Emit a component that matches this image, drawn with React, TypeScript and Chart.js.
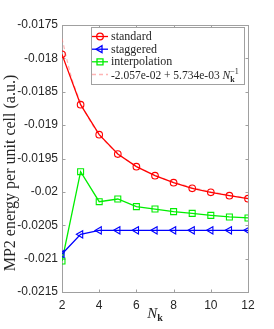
import React, { useEffect, useRef } from "react";
import { Chart, registerables } from "chart.js";

Chart.register(...registerables);

const N_K = [2, 3, 4, 5, 6, 7, 8, 9, 10, 11, 12];
const STANDARD = [-0.01794, -0.018694, -0.019143, -0.019433, -0.019622, -0.019757, -0.019862, -0.019947, -0.020007, -0.020057, -0.020102];
const STAGGERED = [-0.020931, -0.020636, -0.020578, -0.020576, -0.020576, -0.020576, -0.020576, -0.020576, -0.020576, -0.020576, -0.020576];
const INTERPOLATION = [-0.021036, -0.019697, -0.020147, -0.020107, -0.020221, -0.020257, -0.020296, -0.020322, -0.020352, -0.020376, -0.020391];
const FIT_N = [2, 2.5, 3, 3.5, 4, 5, 6, 7, 8, 9, 10, 11, 12];
const FIT = [-0.017703, -0.0182764, -0.0186587, -0.0189317, -0.0191365, -0.0194232, -0.0196143, -0.0197509, -0.0198533, -0.0199329, -0.0199966, -0.0200487, -0.0200922];

const SERIES_LABELS = ["standard", "staggered", "interpolation"];
const FIT_LABEL = "-2.057e-02 + 5.734e-03 ";
const X_TICKS = [2, 4, 6, 8, 10, 12];
const X_MIN = 2;
const X_MAX = 12;
const Y_MIN = -0.0215;
const Y_MAX = -0.0175;
const Y_STEP = 0.0005;
const Y_TITLE = "MP2 energy per unit cell (a.u.)";

const RED = "#ff0000";
const BLUE = "#0000ff";
const GREEN = "#00ee00";
const FIT_COLOR = "rgba(255,120,120,0.55)";
const AXIS_COLOR = "#a0a0a0";
const TEXT_COLOR = "#262626";
const SERIF = '"Liberation Serif", "Times New Roman", serif';

const pts = (xs: number[], ys: number[]) => xs.map((x, i) => ({ x, y: ys[i] }));

function drawMarker(ctx: CanvasRenderingContext2D, kind: string, cx: number, cy: number) {
  ctx.beginPath();
  if (kind === "circle") {
    ctx.arc(cx, cy, 3.3, 0, Math.PI * 2);
  } else if (kind === "triangle") {
    const r = 4;
    ctx.moveTo(cx - r, cy);
    ctx.lineTo(cx + r * 0.5, cy - r * 0.866);
    ctx.lineTo(cx + r * 0.5, cy + r * 0.866);
    ctx.closePath();
  } else {
    ctx.rect(cx - 3, cy - 3, 6, 6);
  }
  ctx.stroke();
}

const framePlugin = {
  id: "frame",
  beforeDatasetsDraw(chart: any) {
    const { ctx, chartArea: a, scales } = chart;
    const x = scales.x;
    const y = scales.y;
    ctx.save();
    ctx.strokeStyle = AXIS_COLOR;
    ctx.lineWidth = 1;
    const l = Math.round(a.left) + 0.5;
    const r = Math.round(a.right) + 0.5;
    const t = Math.round(a.top) + 0.5;
    const b = Math.round(a.bottom) + 0.5;
    ctx.strokeRect(l, t, r - l, b - t);
    ctx.beginPath();
    X_TICKS.forEach((v) => {
      const px = Math.round(x.getPixelForValue(v)) + 0.5;
      ctx.moveTo(px, b);
      ctx.lineTo(px, b - 3);
      ctx.moveTo(px, t);
      ctx.lineTo(px, t + 3);
    });
    y.ticks.forEach((tk: any) => {
      const py = Math.round(y.getPixelForValue(tk.value)) + 0.5;
      ctx.moveTo(l, py);
      ctx.lineTo(l + 3, py);
      ctx.moveTo(r, py);
      ctx.lineTo(r - 3, py);
    });
    ctx.stroke();
    ctx.restore();
  },
  afterDraw(chart: any) {
    const { ctx, chartArea: a } = chart;
    ctx.save();
    // y title
    ctx.fillStyle = TEXT_COLOR;
    ctx.font = `16px ${SERIF}`;
    ctx.textAlign = "center";
    ctx.textBaseline = "alphabetic";
    ctx.translate(15, 173);
    ctx.rotate(-Math.PI / 2);
    ctx.fillText(Y_TITLE, 0, 0);
    ctx.setTransform(1, 0, 0, 1, 0, 0);

    // x title N_k
    const cx = (a.left + a.right) / 2;
    ctx.textAlign = "left";
    ctx.font = `italic 15px ${SERIF}`;
    const wN = ctx.measureText("N").width;
    ctx.font = `bold 10px ${SERIF}`;
    const wk = ctx.measureText("k").width;
    const x0 = cx - (wN + wk) / 2;
    ctx.font = `italic 15px ${SERIF}`;
    ctx.fillText("N", x0, 318);
    ctx.font = `bold 10px ${SERIF}`;
    ctx.fillText("k", x0 + wN, 321);

    // legend
    const bx = 91, by = 27, bw = 153, bh = 57;
    ctx.fillStyle = "#ffffff";
    ctx.fillRect(bx, by, bw, bh);
    ctx.strokeStyle = AXIS_COLOR;
    ctx.lineWidth = 1;
    ctx.strokeRect(bx + 0.5, by + 0.5, bw, bh);
    const rows = [36.5, 49.2, 61.8, 74.5];
    const colors = [RED, BLUE, GREEN];
    const kinds = ["circle", "triangle", "rect"];
    ctx.font = `12px ${SERIF}`;
    ctx.textBaseline = "middle";
    for (let i = 0; i < 3; i++) {
      ctx.strokeStyle = colors[i];
      ctx.lineWidth = 1.3;
      ctx.beginPath();
      ctx.moveTo(92, rows[i]);
      ctx.lineTo(108, rows[i]);
      ctx.stroke();
      drawMarker(ctx, kinds[i], 100, rows[i]);
      ctx.fillStyle = TEXT_COLOR;
      ctx.fillText(SERIES_LABELS[i], 111, rows[i] + 0.5);
    }
    ctx.strokeStyle = FIT_COLOR;
    ctx.lineWidth = 1.3;
    ctx.setLineDash([4, 3]);
    ctx.beginPath();
    ctx.moveTo(92, rows[3]);
    ctx.lineTo(108, rows[3]);
    ctx.stroke();
    ctx.setLineDash([]);
    ctx.fillStyle = TEXT_COLOR;
    ctx.font = `11.5px ${SERIF}`;
    ctx.textBaseline = "alphabetic";
    const base = rows[3] + 4;
    ctx.fillText(FIT_LABEL, 111, base);
    let px = 111 + ctx.measureText(FIT_LABEL).width;
    ctx.font = `italic 11.5px ${SERIF}`;
    ctx.fillText("N", px, base);
    px += ctx.measureText("N").width;
    ctx.font = `bold 8px ${SERIF}`;
    ctx.fillText("k", px, base + 3);
    ctx.font = `8px ${SERIF}`;
    ctx.fillText("\u22121", px, base - 5);
    ctx.restore();
  },
};

export default function App() {
  const ref = useRef<HTMLCanvasElement>(null);
  useEffect(() => {
    if (!ref.current) return;
    const chart = new Chart(ref.current, {
      type: "line",
      data: {
        datasets: [
          {
            label: SERIES_LABELS[0],
            data: pts(N_K, STANDARD),
            borderColor: RED,
            borderWidth: 1.3,
            pointStyle: "circle",
            pointRadius: 3.3,
            pointBorderColor: RED,
            pointBackgroundColor: "rgba(0,0,0,0)",
            pointBorderWidth: 1.1,
          },
          {
            label: SERIES_LABELS[1],
            data: pts(N_K, STAGGERED),
            borderColor: BLUE,
            borderWidth: 1.3,
            pointStyle: "triangle",
            pointRotation: -90,
            pointRadius: 4.2,
            pointBorderColor: BLUE,
            pointBackgroundColor: "rgba(0,0,0,0)",
            pointBorderWidth: 1.1,
          },
          {
            label: SERIES_LABELS[2],
            data: pts(N_K, INTERPOLATION),
            borderColor: GREEN,
            borderWidth: 1.3,
            pointStyle: "rect",
            pointRadius: 4.2,
            pointBorderColor: GREEN,
            pointBackgroundColor: "rgba(0,0,0,0)",
            pointBorderWidth: 1.1,
          },
          {
            label: "fit",
            data: pts(FIT_N, FIT),
            borderColor: FIT_COLOR,
            borderWidth: 1.2,
            borderDash: [4, 3],
            pointRadius: 0,
            cubicInterpolationMode: "monotone",
          },
        ],
      },
      options: {
        animation: false,
        responsive: false,
        devicePixelRatio: 1,
        layout: { padding: { top: 25, right: 26, left: 0, bottom: 0 } },
        plugins: { legend: { display: false }, tooltip: { enabled: false } },
        scales: {
          x: {
            type: "linear",
            min: X_MIN,
            max: X_MAX,
            afterFit: (s: any) => {
              s.height = 37;
            },
            afterBuildTicks: (s: any) => {
              s.ticks = X_TICKS.map((v) => ({ value: v }));
            },
            grid: { display: false, drawTicks: false },
            border: { display: false },
            ticks: {
              padding: 6,
              color: TEXT_COLOR,
              font: { family: '"Liberation Sans", Arial, sans-serif', size: 12 },
              maxRotation: 0,
            },
          },
          y: {
            type: "linear",
            min: Y_MIN,
            max: Y_MAX,
            afterFit: (s: any) => {
              s.width = 62;
            },
            grid: { display: false, drawTicks: false },
            border: { display: false },
            ticks: {
              stepSize: Y_STEP,
              padding: 4,
              color: TEXT_COLOR,
              font: { family: '"Liberation Sans", Arial, sans-serif', size: 12 },
              callback: (v: any) => String(parseFloat(Number(v).toFixed(4))),
            },
          },
        },
      },
      plugins: [framePlugin],
    });
    return () => chart.destroy();
  }, []);
  return (
    <div style={{ position: "absolute", left: 0, top: 0, width: 274, height: 329, background: "#fff" }}>
      <canvas ref={ref} width={274} height={329} style={{ width: 274, height: 329, display: "block" }} />
    </div>
  );
}
